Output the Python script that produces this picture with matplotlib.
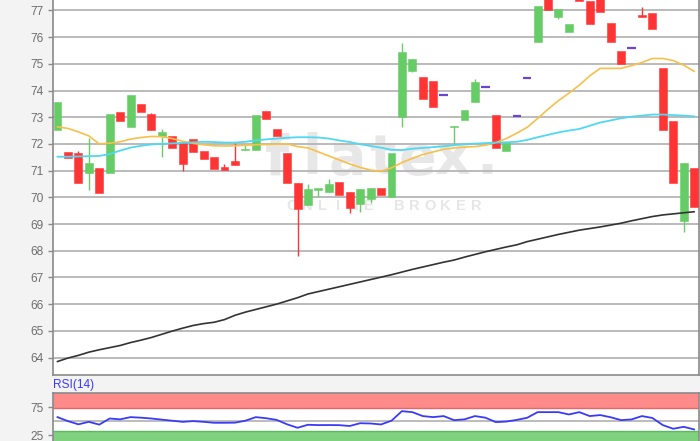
import matplotlib
matplotlib.use("Agg")
import matplotlib.pyplot as plt
import numpy as np

plt.rcParams['font.family'] = ['Liberation Sans', 'DejaVu Sans']

# ---------------- data ----------------
opens  = [72.52, 71.71, 71.67, 70.92, 71.08, 70.92, 73.21, 72.62, 73.50, 73.12,
          72.30, 72.30, 72.02, 72.20, 71.75, 71.52, 71.12, 71.37, 71.76, 71.77,
          73.22, 72.54, 71.67, 70.55, 69.70, 70.29, 70.19, 70.56, 70.21, 69.75,
          69.95, 70.36, 70.02, 73.02, 74.74, 74.49, 74.34, 73.83, 72.62, 72.89,
          73.58, 74.13, 73.07, 71.75, 73.04, 74.47, 75.81, 77.60, 76.74, 76.19,
          77.90, 77.35, 77.55, 76.52, 75.49, 75.58, 76.81, 76.89, 74.85, 72.87,
          69.12, 71.08]
highs  = [73.56, 71.71, 71.75, 72.21, 71.08, 73.12, 73.21, 73.84, 73.50, 73.17,
          72.54, 72.30, 72.02, 72.20, 71.75, 71.52, 71.24, 72.02, 71.96, 73.08,
          73.22, 72.54, 71.67, 70.55, 70.50, 70.33, 70.67, 70.56, 70.21, 70.30,
          70.35, 70.36, 71.67, 75.79, 75.17, 74.49, 74.34, 73.83, 72.67, 73.27,
          74.42, 74.13, 73.07, 72.05, 73.04, 74.47, 77.16, 77.60, 77.05, 76.49,
          77.90, 77.35, 77.55, 76.52, 75.49, 75.58, 77.11, 76.89, 74.85, 72.87,
          71.27, 71.08]
lows   = [72.52, 71.46, 70.52, 70.27, 70.17, 70.92, 72.86, 72.62, 73.20, 72.52,
          71.50, 71.83, 71.00, 71.70, 71.43, 71.05, 71.02, 71.21, 71.76, 71.77,
          72.94, 72.31, 70.55, 67.80, 69.70, 70.02, 70.19, 70.08, 69.40, 69.45,
          69.80, 70.08, 70.02, 72.64, 74.70, 73.68, 73.39, 73.83, 72.00, 72.89,
          73.58, 74.13, 71.83, 71.75, 73.04, 74.47, 75.81, 77.01, 76.69, 76.19,
          77.35, 76.49, 76.93, 75.81, 75.00, 75.58, 76.76, 76.32, 72.52, 70.52,
          68.71, 69.65]
closes = [73.56, 71.46, 70.52, 71.27, 70.17, 73.12, 72.86, 73.84, 73.20, 72.52,
          72.43, 71.83, 71.25, 71.70, 71.43, 71.05, 71.02, 71.21, 71.80, 73.08,
          72.94, 72.31, 70.55, 69.55, 70.30, 70.33, 70.50, 70.08, 69.61, 70.30,
          70.35, 70.08, 71.67, 75.45, 75.17, 73.68, 73.39, 73.83, 72.67, 73.27,
          74.33, 74.13, 71.83, 72.05, 73.04, 74.47, 77.16, 77.01, 77.05, 76.49,
          77.35, 76.49, 76.93, 75.81, 75.00, 75.58, 76.76, 76.32, 72.52, 70.52,
          71.27, 69.65]

sma_short = [72.64, 72.58, 72.45, 72.30, 72.00, 72.03, 72.08, 72.18, 72.24, 72.28,
             72.27, 72.20, 72.10, 72.02, 71.97, 71.93, 71.92, 71.93, 71.95, 71.97,
             71.98, 71.99, 72.00, 71.90, 71.85, 71.70, 71.55, 71.40, 71.25, 71.12,
             71.02, 70.98, 71.10, 71.30, 71.46, 71.60, 71.70, 71.80, 71.85, 71.88,
             71.90, 71.95, 72.05, 72.20, 72.40, 72.62, 72.95, 73.30, 73.62, 73.90,
             74.20, 74.55, 74.83, 74.83, 74.83, 74.93, 75.05, 75.20, 75.20, 75.12,
             74.95, 74.72]
sma_mid = [71.52, 71.52, 71.53, 71.54, 71.55, 71.62, 71.75, 71.86, 71.93, 71.98,
           72.00, 72.02, 72.04, 72.06, 72.08, 72.07, 72.05, 72.05, 72.08, 72.13,
           72.17, 72.20, 72.23, 72.25, 72.25, 72.24, 72.20, 72.13, 72.07, 71.99,
           71.92, 71.86, 71.78, 71.77, 71.82, 71.85, 71.88, 71.91, 71.95, 71.99,
           72.01, 72.03, 72.05, 72.06, 72.08, 72.15, 72.25, 72.34, 72.43, 72.50,
           72.56, 72.68, 72.80, 72.88, 72.96, 73.02, 73.06, 73.10, 73.10, 73.08,
           73.06, 73.03]
sma_long = [63.85, 63.98, 64.08, 64.20, 64.29, 64.37, 64.45, 64.56, 64.65, 64.75,
            64.87, 64.99, 65.10, 65.20, 65.27, 65.32, 65.42, 65.58, 65.70, 65.80,
            65.90, 66.00, 66.12, 66.24, 66.38, 66.47, 66.56, 66.65, 66.74, 66.83,
            66.92, 67.01, 67.10, 67.20, 67.30, 67.39, 67.48, 67.57, 67.65, 67.76,
            67.86, 67.96, 68.05, 68.14, 68.22, 68.34, 68.43, 68.52, 68.61, 68.69,
            68.77, 68.83, 68.89, 68.96, 69.03, 69.12, 69.20, 69.28, 69.34, 69.38,
            69.42, 69.46]
rsi = [57.5, 50.3, 44.5, 49.0, 44.0, 55.0, 53.5, 57.5, 56.5, 55.0,
       53.0, 51.0, 49.0, 50.3, 49.0, 47.3, 47.3, 47.5, 51.0, 57.5,
       55.5, 52.5, 44.5, 38.3, 43.7, 43.1, 43.2, 43.0, 41.5, 46.5,
       46.0, 44.3, 51.0, 68.3, 66.5, 59.4, 57.5, 59.4, 52.0, 53.5,
       59.4, 56.5, 48.5, 49.5, 52.5, 56.3, 66.5, 66.5, 66.5, 62.3,
       66.5, 59.4, 61.2, 57.3, 52.1, 53.3, 59.4, 56.0, 43.1, 36.5,
       40.0, 35.3]

price_ticks = [64, 65, 66, 67, 68, 69, 70, 71, 72, 73, 74, 75, 76, 77]
rsi_ticks = [25, 75]
rsi_label = "RSI(14)"
logo_text = "flatex."
logo_sub = "ONLINE BROKER"

# ---------------- styling ----------------
W, H = 700, 441
fig = plt.figure(figsize=(W / 100, H / 100), dpi=100, facecolor='#f3f3f3')

left_px, right_px = 52.5, 698.5
ax = fig.add_axes([left_px / W, 66 / H, (right_px - left_px) / W, 375 / H])
ax2 = fig.add_axes([left_px / W, 0, (right_px - left_px) / W, 48.3 / H])

n = len(opens)
x = np.arange(n)
GREEN = '#66cc66'
RED = '#ff3535'
PURPLE = '#6a45d0'
GRID = '#b5b5b5'
SPINE = '#8a8a8a'
TXT = '#6e6e6e'

for a in (ax, ax2):
    a.set_facecolor('white')
    a.set_xlim(-0.48, 61.42)
    for s in a.spines.values():
        s.set_color(SPINE)
        s.set_linewidth(1.2)
    a.tick_params(axis='y', colors=SPINE, labelcolor=TXT, labelsize=8.6,
                  length=3.5, width=1.0, pad=3)
    a.set_xticks([])

ax.set_ylim(63.345, 77.39)
ax.set_yticks(price_ticks)
ax.spines['top'].set_visible(False)
for t in price_ticks:
    ax.axhline(t, color=GRID, lw=1.3, zorder=1)

# watermark (letter-spaced logo)
logo_x0, logo_x1 = 277, 487
for k, ch in enumerate(logo_text):
    px = logo_x0 + (logo_x1 - logo_x0) * k / (len(logo_text) - 1)
    ax.text((px - left_px) / (right_px - left_px), 0.575, ch,
            transform=ax.transAxes, ha='center', va='center',
            fontsize=40, fontweight='bold', color='#e2e2e2', alpha=0.8,
            family=['DejaVu Sans'], zorder=0.5)
sub_x0, sub_x1 = 292, 476
for k, ch in enumerate(logo_sub):
    px = sub_x0 + (sub_x1 - sub_x0) * k / (len(logo_sub) - 1)
    ax.text((px - left_px) / (right_px - left_px), 0.451, ch,
            transform=ax.transAxes, ha='center', va='center',
            fontsize=10.5, fontweight='bold', color='#e6e6e6', zorder=0.5)

# candles
w = 0.76
for i in range(n):
    o, h, l, c = opens[i], highs[i], lows[i], closes[i]
    if o == h == l == c:
        ax.hlines(o, i - 0.4, i + 0.4, color=PURPLE, lw=1.6, zorder=4)
        continue
    col = GREEN if c >= o else RED
    lo_b, hi_b = min(o, c), max(o, c)
    if h > hi_b or l < lo_b:
        ax.vlines(i, l, h, color=col, lw=1.0, zorder=3)
    ax.bar(i, max(hi_b - lo_b, 0.05), bottom=lo_b, width=w, color=col,
           edgecolor=col, linewidth=0.4, zorder=4)

ax.plot(x, sma_short, color='#f7c04a', lw=1.2, zorder=5)
ax.plot(x, sma_mid, color='#4fd8f2', lw=1.3, zorder=5)
ax.plot(x, sma_long, color='#333333', lw=1.2, zorder=5)

# RSI panel
ax2.set_ylim(14.4, 101.6)
ax2.set_yticks(rsi_ticks)
ax2.spines['bottom'].set_visible(False)
ax2.axhspan(73.1, 101.6, color='#ff8a8a', lw=0, zorder=1)
ax2.axhline(73.3, color='#e06a6a', lw=1.0, zorder=1.5)
ax2.axhspan(0, 32.0, color='#7fd17f', lw=0, zorder=1)
ax2.axhline(31.8, color='#5fb85f', lw=1.0, zorder=1.5)
ax2.axhline(50, color='#b0b0b0', lw=1.2, zorder=2)
ax2.plot(x, rsi, color='#3b3bf5', lw=1.3, zorder=3)

fig.text(left_px / W, (H - 385) / H, rsi_label, color='#3a3aff', fontsize=8.6,
         ha='left', va='center')

fig.savefig('out.png', dpi=100, facecolor=fig.get_facecolor())
